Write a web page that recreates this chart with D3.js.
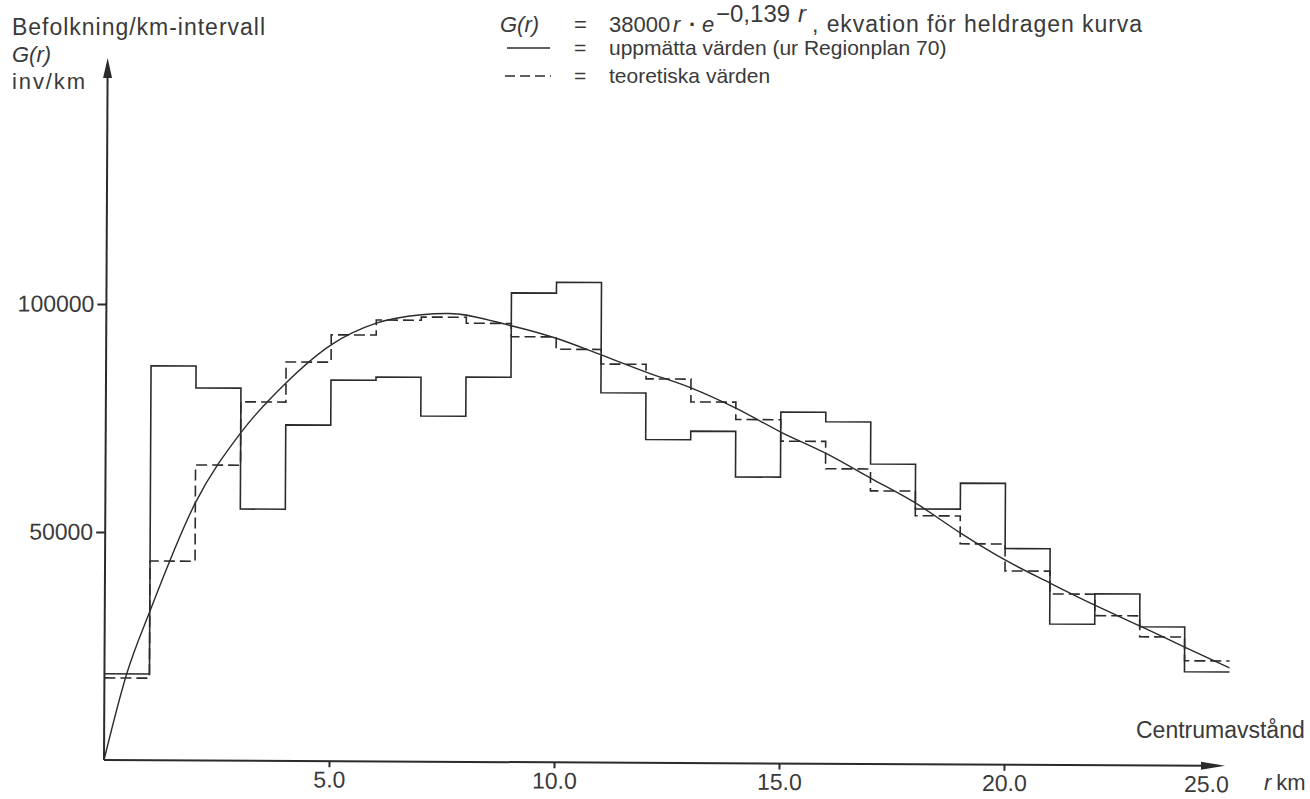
<!DOCTYPE html>
<html>
<head>
<meta charset="utf-8">
<script src="https://cdn.jsdelivr.net/npm/d3@7"></script>
<style>
  body { margin: 0; background: #fff; }
  text { font-family: "Liberation Sans", Arial, sans-serif; fill: #3a3a3a; }
</style>
</head>
<body>
<script>
// population per km ring, measured vs theoretical (1 km bins, 0-25 km)
const binStarts = d3.range(0, 25)

const measured = [18900, 86500, 81700, 55200, 73700, 83600, 84300, 75800, 84400, 102900,
  105300, 81100, 70900, 72800, 62800, 77100, 75000, 65800, 56000, 61700,
  47400, 30900, 37600, 30400, 20600]

const theoretical = [18000, 43700, 64800, 78700, 87500, 93500, 96800, 97500, 96200, 93300,
  90600, 87400, 84200, 79200, 75400, 70700, 64700, 59900, 54500, 48400,
  42500, 37500, 32800, 28200, 23000]

// solid curve, points
const curveR = [0, 0.5, 1, 2, 3, 4, 5, 6, 7, 7.6, 9, 10, 11, 12, 13, 14,
  15, 16, 17, 18, 19, 20, 21, 22, 23, 24, 25]
const curveG = [0, 19100, 32600, 56500, 71900, 82900, 91300, 96100, 98000, 98300,
  95700, 93000, 89400, 85700, 82300, 77900, 72700, 68100, 62700, 57300, 50800,
  44900, 39900, 35100, 30600, 26000, 21500]

const xTicks = [5, 10, 15, 20, 25]
const yTicks = [50000, 100000]

const ink = "#2b2b2b"

const svg = d3.select("body").append("svg")
  .attr("width", 1310)
  .attr("height", 799)

const x = d3.scaleLinear().domain([0, 25]).range([104, 1229])
const y = d3.scaleLinear().domain([0, 100000]).range([760, 304])

// the scanned page is slightly tilted
const plot = svg.append("g")
  .attr("transform", `rotate(0.3, ${x(0)}, ${y(0)})`)

// y axis
plot.append("line")
  .attr("x1", x(0)).attr("y1", y(0))
  .attr("x2", x(0)).attr("y2", 64)
  .attr("stroke", ink).attr("stroke-width", 2)
plot.append("path")
  .attr("d", `M${x(0)},58 L${x(0) - 4.5},78 L${x(0) + 4.5},78 Z`)
  .attr("fill", ink)

const yAxis = plot.append("g")
  .attr("transform", `translate(${x(0)},0)`)
  .call(d3.axisLeft(y).tickValues(yTicks).tickSize(9).tickPadding(3).tickFormat(d3.format("d")))
yAxis.select(".domain").remove()
yAxis.selectAll("line").attr("stroke", ink).attr("stroke-width", 2)
yAxis.selectAll("text")
  .style("font-size", "23px")
  .attr("fill", "#3a3a3a")

// x axis
plot.append("line")
  .attr("x1", x(0)).attr("y1", y(0))
  .attr("x2", 1210).attr("y2", y(0))
  .attr("stroke", ink).attr("stroke-width", 2)
plot.append("path")
  .attr("d", `M1225,${y(0)} L1201,${y(0) - 4} L1201,${y(0) + 4} Z`)
  .attr("fill", ink)

const xAxis = plot.append("g")
  .attr("transform", `translate(0,${y(0)})`)
  .call(d3.axisBottom(x).tickValues(xTicks).tickSize(6).tickPadding(4).tickFormat(d3.format(".1f")))
xAxis.select(".domain").remove()
xAxis.selectAll("line").attr("stroke", ink).attr("stroke-width", 2)
xAxis.selectAll("text")
  .style("font-size", "23px")
  .attr("fill", "#3a3a3a")
// last tick sits under the arrow head, label is pulled left
xAxis.selectAll(".tick").filter(d => d === 25).select("line").remove()
xAxis.selectAll(".tick").filter(d => d === 25).select("text").attr("x", -23)

// step lines
const stepLine = d3.line()
  .x(d => x(d[0]))
  .y(d => y(d[1]))
  .curve(d3.curveStepAfter)

const measuredPts = binStarts.map((r, i) => [r, measured[i]])
measuredPts.push([25, measured[measured.length - 1]])
const theoreticalPts = binStarts.map((r, i) => [r, theoretical[i]])
theoreticalPts.push([25, theoretical[theoretical.length - 1]])

plot.append("path")
  .attr("d", stepLine(theoreticalPts))
  .attr("fill", "none")
  .attr("stroke", ink)
  .attr("stroke-width", 1.6)
  .attr("stroke-dasharray", "11,5")

plot.append("path")
  .attr("d", stepLine(measuredPts))
  .attr("fill", "none")
  .attr("stroke", ink)
  .attr("stroke-width", 1.6)

// fitted curve
const curveLine = d3.line()
  .x((d, i) => x(curveR[i]))
  .y(d => y(d))
  .curve(d3.curveMonotoneX)

plot.append("path")
  .attr("d", curveLine(curveG))
  .attr("fill", "none")
  .attr("stroke", ink)
  .attr("stroke-width", 1.4)

// axis titles
svg.append("text").attr("x", 12).attr("y", 35)
  .attr("textLength", 253).attr("lengthAdjust", "spacing")
  .style("font-size", "23px").text("Befolkning/km-intervall")
svg.append("text").attr("x", 12).attr("y", 62)
  .style("font-size", "22px").style("font-style", "italic").text("G(r)")
svg.append("text").attr("x", 12).attr("y", 89)
  .attr("textLength", 73).attr("lengthAdjust", "spacing")
  .style("font-size", "22px").text("inv/km")

svg.append("text").attr("x", 1136).attr("y", 738)
  .style("font-size", "23px").text("Centrumavstånd")
svg.append("text").attr("x", 1264).attr("y", 790)
  .style("font-size", "22px")
  .call(t => t.append("tspan").style("font-style", "italic").text("r"))
  .call(t => t.append("tspan").attr("dx", 5).text("km"))

// formula line
const formula = svg.append("g").style("font-size", "22px")
formula.append("text").attr("x", 500).attr("y", 32).style("font-style", "italic").text("G(r)")
formula.append("text").attr("x", 574).attr("y", 32).text("=")
formula.append("text").attr("x", 609).attr("y", 32).text("38000")
formula.append("text").attr("x", 673).attr("y", 32).style("font-style", "italic").text("r")
formula.append("text").attr("x", 689).attr("y", 32).style("font-weight", "bold").text("·")
formula.append("text").attr("x", 702).attr("y", 32).style("font-style", "italic").text("e")
formula.append("text").attr("x", 716).attr("y", 22)
  .style("font-size", "24px").text("\u22120,139")
formula.append("text").attr("x", 798).attr("y", 22)
  .style("font-size", "24px").style("font-style", "italic").text("r")
formula.append("text").attr("x", 812).attr("y", 32)
  .attr("textLength", 330).attr("lengthAdjust", "spacing")
  .style("font-size", "23px")
  .text(", ekvation för heldragen kurva")

// legend
const legend = svg.append("g").style("font-size", "21px")
legend.append("line").attr("x1", 507).attr("x2", 550).attr("y1", 48).attr("y2", 48)
  .attr("stroke", ink).attr("stroke-width", 1.4)
legend.append("text").attr("x", 574).attr("y", 55).text("=")
legend.append("text").attr("x", 609).attr("y", 55).text("uppmätta värden (ur Regionplan 70)")
legend.append("line").attr("x1", 505).attr("x2", 551).attr("y1", 76).attr("y2", 76)
  .attr("stroke", ink).attr("stroke-width", 1.4).attr("stroke-dasharray", "10,5")
legend.append("text").attr("x", 574).attr("y", 83).text("=")
legend.append("text").attr("x", 609).attr("y", 83).text("teoretiska värden")
</script>
</body>
</html>
